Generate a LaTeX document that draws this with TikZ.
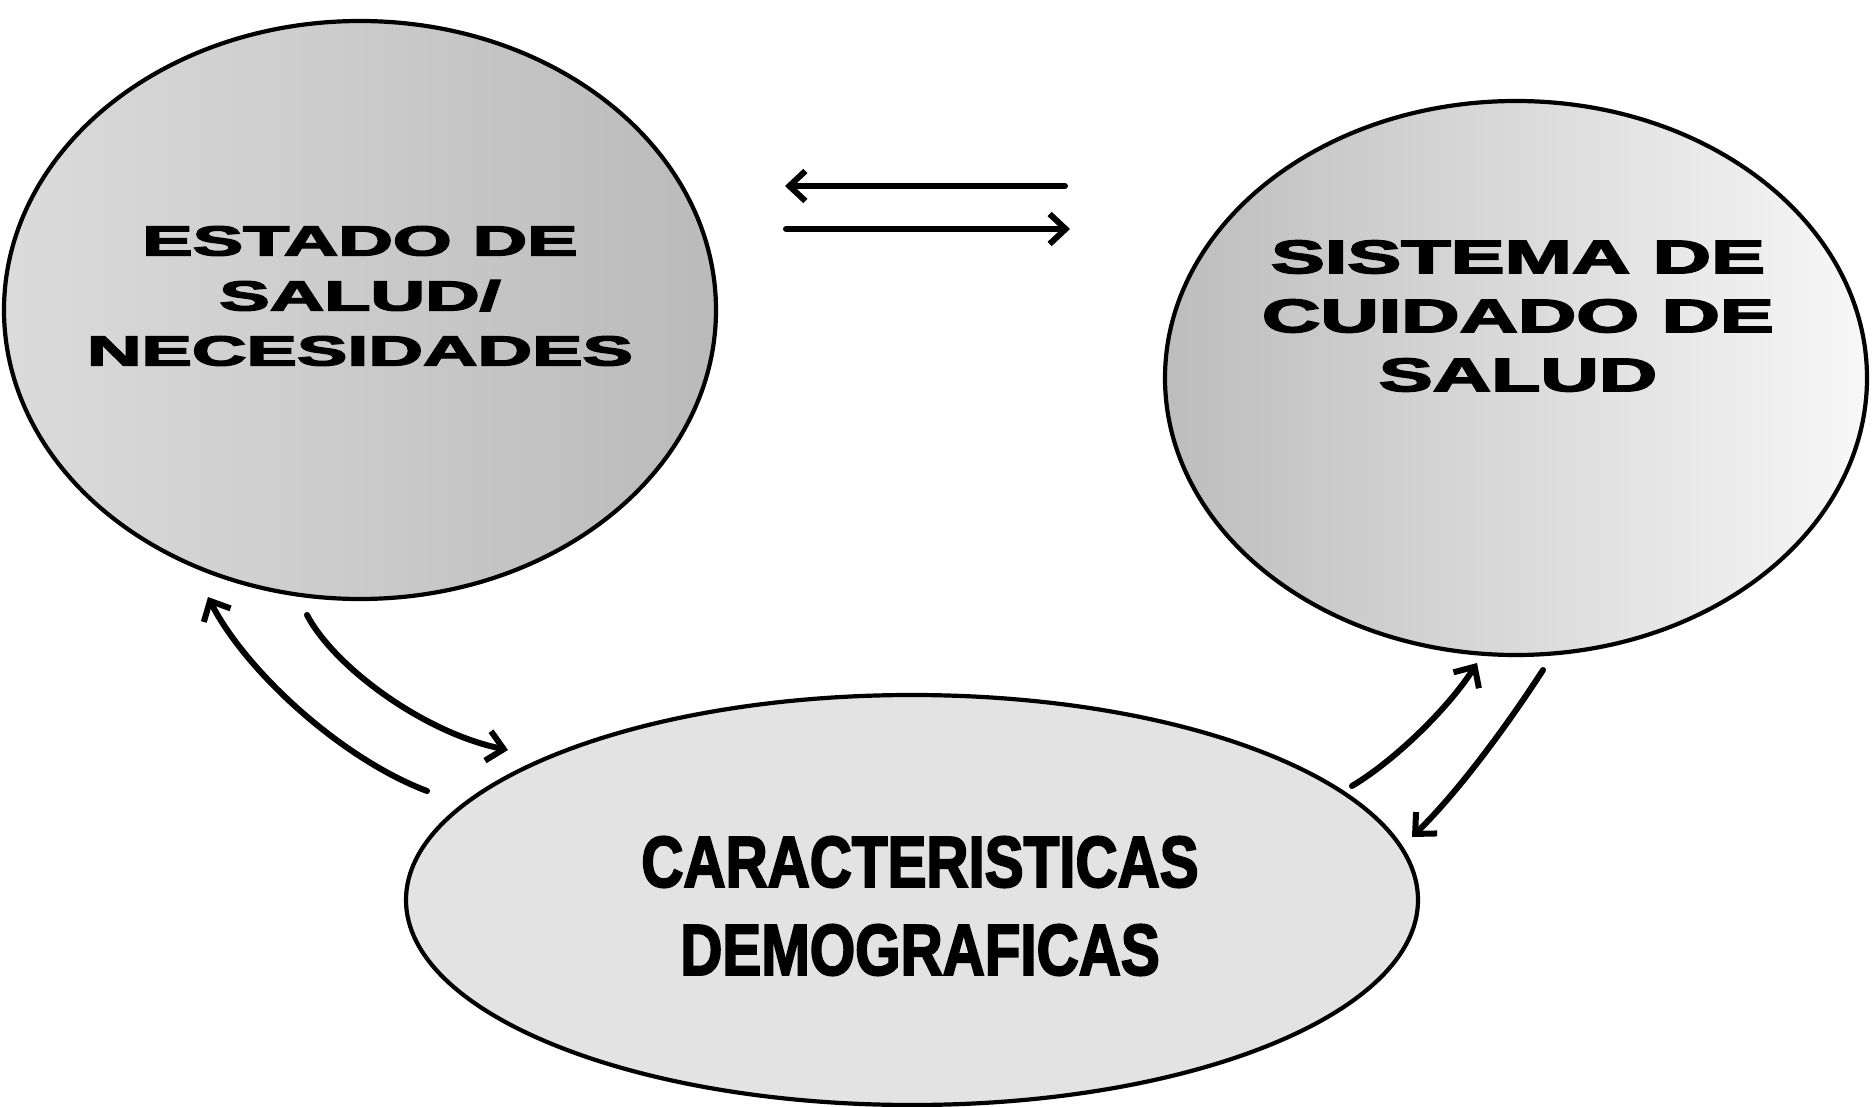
\documentclass[tikz,border=0pt]{standalone}
\usepackage{fontspec}
\setmainfont{Liberation Sans}[BoldFeatures={FakeBold=3}]
\usepackage{graphicx}
\usetikzlibrary{shapes.geometric,arrows.meta}
\newcommand{\hstretch}[2]{\scalebox{#1}[1]{#2}}
\begin{document}
\begin{tikzpicture}[x=1pt,y=-1pt,
  bubble/.style={ellipse, draw=black, line width=4.2pt, inner sep=0pt},
  flow/.style={line width=6pt, line cap=round,
    -{Straight Barb[length=16pt,width=30pt,line width=6pt]}},
  label/.style={align=center, inner sep=0pt, text=black},
]
\useasboundingbox (0,0) rectangle (1872,1107);
\fill[white] (0,0) rectangle (1872,1107);

% ellipses
\node[bubble, minimum width=712pt, minimum height=578pt,
      left color=black!14, right color=black!27] (estado) at (360,310) {};
\node[bubble, minimum width=702pt, minimum height=554pt,
      left color=black!26, right color=black!3] (sistema) at (1516,378) {};
\node[bubble, minimum width=1012pt, minimum height=410pt,
      fill=black!11] (demog) at (912,900) {};

% texts
\node[label, font=\fontsize{42}{55}\selectfont\bfseries] (testado) at (360,296)
  {\hstretch{1.80}{ESTADO DE}\\\hstretch{1.80}{SALUD/}\\\hstretch{1.80}{NECESIDADES}};
\node[label, font=\fontsize{47}{59}\selectfont\bfseries] (tsistema) at (1518,316)
  {\hstretch{1.72}{SISTEMA DE}\\\hstretch{1.72}{CUIDADO DE}\\\hstretch{1.72}{SALUD}};
\node[label, font=\fontsize{72}{88}\selectfont\bfseries] (tdemog) at (920,906)
  {\hstretch{0.81}{CARACTERISTICAS}\\\hstretch{0.81}{DEMOGRAFICAS}};

% arrow end points
\coordinate (h1s) at (1065,186);
\coordinate (h1e) at (785,186);
\coordinate (h2s) at (786,229);
\coordinate (h2e) at (1070,229);
\coordinate (l1s) at (427,791);
\coordinate (l1e) at (208,597);
\coordinate (l2s) at (307,615);
\coordinate (l2e) at (508,750);
\coordinate (r1s) at (1352,786);
\coordinate (r1e) at (1477,663);
\coordinate (r2s) at (1543,670);
\coordinate (r2e) at (1412,837);

% arrows
\draw[flow] (h1s) -- (h1e);
\draw[flow] (h2s) -- (h2e);
\draw[flow] (l1s) .. controls (340,758) and (245,670) .. (l1e);
\draw[flow] (l2s) .. controls (335,668) and (425,733) .. (l2e);
\draw[flow] (r1s) .. controls (1400,757) and (1452,703) .. (r1e);
\draw[flow] (r2s) .. controls (1512,718) and (1462,788) .. (r2e);
\end{tikzpicture}
\end{document}
